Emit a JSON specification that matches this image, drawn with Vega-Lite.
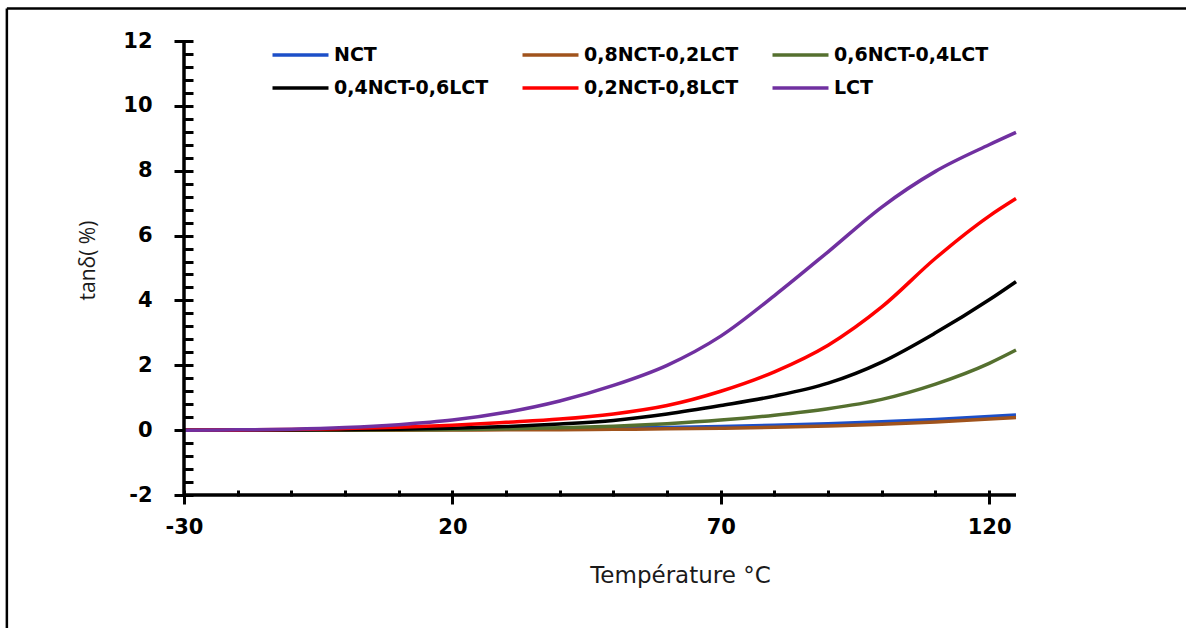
{
  "$schema": "https://vega.github.io/schema/vega-lite/v6.json",
  "width": 832,
  "height": 454,
  "autosize": {"type": "none"},
  "padding": {"left": 184, "top": 41, "right": 170, "bottom": 133},
  "background": "white",
  "config": {"view": {"stroke": null}},
  "datasets": {
    "curves": [
      {"T": -30, "v": 0, "s": "NCT"}, {"T": -20, "v": 0, "s": "NCT"}, {"T": -10, "v": 0.005, "s": "NCT"}, {"T": 0, "v": 0.01, "s": "NCT"}, {"T": 10, "v": 0.02, "s": "NCT"}, {"T": 20, "v": 0.03, "s": "NCT"}, {"T": 30, "v": 0.04, "s": "NCT"}, {"T": 40, "v": 0.05, "s": "NCT"}, {"T": 50, "v": 0.065, "s": "NCT"}, {"T": 60, "v": 0.085, "s": "NCT"}, {"T": 70, "v": 0.11, "s": "NCT"}, {"T": 80, "v": 0.15, "s": "NCT"}, {"T": 90, "v": 0.2, "s": "NCT"}, {"T": 100, "v": 0.26, "s": "NCT"}, {"T": 110, "v": 0.33, "s": "NCT"}, {"T": 120, "v": 0.42, "s": "NCT"}, {"T": 125, "v": 0.47, "s": "NCT"},
      {"T": -30, "v": 0, "s": "0,8NCT-0,2LCT"}, {"T": -20, "v": 0, "s": "0,8NCT-0,2LCT"}, {"T": -10, "v": 0, "s": "0,8NCT-0,2LCT"}, {"T": 0, "v": 0, "s": "0,8NCT-0,2LCT"}, {"T": 10, "v": 0, "s": "0,8NCT-0,2LCT"}, {"T": 20, "v": 0.005, "s": "0,8NCT-0,2LCT"}, {"T": 30, "v": 0.01, "s": "0,8NCT-0,2LCT"}, {"T": 40, "v": 0.015, "s": "0,8NCT-0,2LCT"}, {"T": 50, "v": 0.025, "s": "0,8NCT-0,2LCT"}, {"T": 60, "v": 0.04, "s": "0,8NCT-0,2LCT"}, {"T": 70, "v": 0.06, "s": "0,8NCT-0,2LCT"}, {"T": 80, "v": 0.09, "s": "0,8NCT-0,2LCT"}, {"T": 90, "v": 0.13, "s": "0,8NCT-0,2LCT"}, {"T": 100, "v": 0.18, "s": "0,8NCT-0,2LCT"}, {"T": 110, "v": 0.25, "s": "0,8NCT-0,2LCT"}, {"T": 120, "v": 0.34, "s": "0,8NCT-0,2LCT"}, {"T": 125, "v": 0.39, "s": "0,8NCT-0,2LCT"},
      {"T": -30, "v": 0, "s": "0,6NCT-0,4LCT"}, {"T": -20, "v": 0, "s": "0,6NCT-0,4LCT"}, {"T": -10, "v": 0, "s": "0,6NCT-0,4LCT"}, {"T": 0, "v": 0.005, "s": "0,6NCT-0,4LCT"}, {"T": 10, "v": 0.01, "s": "0,6NCT-0,4LCT"}, {"T": 20, "v": 0.02, "s": "0,6NCT-0,4LCT"}, {"T": 30, "v": 0.04, "s": "0,6NCT-0,4LCT"}, {"T": 40, "v": 0.07, "s": "0,6NCT-0,4LCT"}, {"T": 50, "v": 0.12, "s": "0,6NCT-0,4LCT"}, {"T": 60, "v": 0.2, "s": "0,6NCT-0,4LCT"}, {"T": 70, "v": 0.31, "s": "0,6NCT-0,4LCT"}, {"T": 80, "v": 0.46, "s": "0,6NCT-0,4LCT"}, {"T": 90, "v": 0.66, "s": "0,6NCT-0,4LCT"}, {"T": 100, "v": 0.95, "s": "0,6NCT-0,4LCT"}, {"T": 110, "v": 1.42, "s": "0,6NCT-0,4LCT"}, {"T": 120, "v": 2.06, "s": "0,6NCT-0,4LCT"}, {"T": 125, "v": 2.47, "s": "0,6NCT-0,4LCT"},
      {"T": -30, "v": 0, "s": "0,4NCT-0,6LCT"}, {"T": -20, "v": 0, "s": "0,4NCT-0,6LCT"}, {"T": -10, "v": 0.005, "s": "0,4NCT-0,6LCT"}, {"T": 0, "v": 0.015, "s": "0,4NCT-0,6LCT"}, {"T": 10, "v": 0.03, "s": "0,4NCT-0,6LCT"}, {"T": 20, "v": 0.06, "s": "0,4NCT-0,6LCT"}, {"T": 30, "v": 0.11, "s": "0,4NCT-0,6LCT"}, {"T": 40, "v": 0.19, "s": "0,4NCT-0,6LCT"}, {"T": 50, "v": 0.3, "s": "0,4NCT-0,6LCT"}, {"T": 60, "v": 0.5, "s": "0,4NCT-0,6LCT"}, {"T": 70, "v": 0.76, "s": "0,4NCT-0,6LCT"}, {"T": 80, "v": 1.05, "s": "0,4NCT-0,6LCT"}, {"T": 90, "v": 1.45, "s": "0,4NCT-0,6LCT"}, {"T": 100, "v": 2.1, "s": "0,4NCT-0,6LCT"}, {"T": 110, "v": 3.0, "s": "0,4NCT-0,6LCT"}, {"T": 120, "v": 4.02, "s": "0,4NCT-0,6LCT"}, {"T": 125, "v": 4.58, "s": "0,4NCT-0,6LCT"},
      {"T": -30, "v": 0, "s": "0,2NCT-0,8LCT"}, {"T": -20, "v": 0.005, "s": "0,2NCT-0,8LCT"}, {"T": -10, "v": 0.02, "s": "0,2NCT-0,8LCT"}, {"T": 0, "v": 0.05, "s": "0,2NCT-0,8LCT"}, {"T": 10, "v": 0.09, "s": "0,2NCT-0,8LCT"}, {"T": 20, "v": 0.15, "s": "0,2NCT-0,8LCT"}, {"T": 30, "v": 0.24, "s": "0,2NCT-0,8LCT"}, {"T": 40, "v": 0.34, "s": "0,2NCT-0,8LCT"}, {"T": 50, "v": 0.5, "s": "0,2NCT-0,8LCT"}, {"T": 60, "v": 0.76, "s": "0,2NCT-0,8LCT"}, {"T": 70, "v": 1.2, "s": "0,2NCT-0,8LCT"}, {"T": 80, "v": 1.8, "s": "0,2NCT-0,8LCT"}, {"T": 90, "v": 2.62, "s": "0,2NCT-0,8LCT"}, {"T": 100, "v": 3.8, "s": "0,2NCT-0,8LCT"}, {"T": 110, "v": 5.3, "s": "0,2NCT-0,8LCT"}, {"T": 120, "v": 6.6, "s": "0,2NCT-0,8LCT"}, {"T": 125, "v": 7.14, "s": "0,2NCT-0,8LCT"},
      {"T": -30, "v": 0, "s": "LCT"}, {"T": -20, "v": 0.01, "s": "LCT"}, {"T": -10, "v": 0.03, "s": "LCT"}, {"T": 0, "v": 0.08, "s": "LCT"}, {"T": 10, "v": 0.17, "s": "LCT"}, {"T": 20, "v": 0.31, "s": "LCT"}, {"T": 30, "v": 0.55, "s": "LCT"}, {"T": 40, "v": 0.9, "s": "LCT"}, {"T": 50, "v": 1.38, "s": "LCT"}, {"T": 60, "v": 2.0, "s": "LCT"}, {"T": 70, "v": 2.9, "s": "LCT"}, {"T": 80, "v": 4.15, "s": "LCT"}, {"T": 90, "v": 5.5, "s": "LCT"}, {"T": 100, "v": 6.88, "s": "LCT"}, {"T": 110, "v": 7.98, "s": "LCT"}, {"T": 120, "v": 8.8, "s": "LCT"}, {"T": 125, "v": 9.18, "s": "LCT"}
    ]
  },
  "layer": [
    {
      "data": {"name": "curves"},
      "mark": {"type": "line", "strokeWidth": 3.5, "interpolate": "monotone"},
      "encoding": {
        "x": {
          "field": "T", "type": "quantitative",
          "scale": {"domain": [-30, 125], "nice": false, "zero": false},
          "axis": {
            "values": [-30, -20, -10, 0, 10, 20, 30, 40, 50, 60, 70, 80, 90, 100, 110, 120],
            "tickCount": 200,
            "offset": -5, "domain": false, "grid": false,
            "tickSize": {"condition": {"test": "(datum.value + 30) % 50 == 0", "value": 14}, "value": 6},
            "tickWidth": 3, "tickColor": "black",
            "labelExpr": "(datum.value + 30) % 50 == 0 ? '' + datum.value : ''",
            "labelFont": "DejaVu Sans", "labelFontSize": 21, "labelFontWeight": "bold", "labelColor": "black",
            "labelPadding": 12, "labelOverlap": false, "labelBound": false, "labelFlush": false,
            "title": "Température °C", "titleFont": "DejaVu Sans", "titleFontSize": 23, "titleFontWeight": "normal", "titleColor": "#1a1a1a",
            "titleX": 496, "titleY": 92, "titleAlign": "center", "titleBaseline": "alphabetic"
          }
        },
        "y": {
          "field": "v", "type": "quantitative",
          "scale": {"domain": [-2, 12], "nice": false, "zero": false},
          "axis": {
            "values": [-2, -1.6, -1.2, -0.8, -0.4, 0, 0.4, 0.8, 1.2, 1.6, 2, 2.4, 2.8, 3.2, 3.6, 4, 4.4, 4.8, 5.2, 5.6, 6, 6.4, 6.8, 7.2, 7.6, 8, 8.4, 8.8, 9.2, 9.6, 10, 10.4, 10.8, 11.2, 11.6, 12],
            "tickCount": 200,
            "offset": -9, "domain": false, "grid": false,
            "tickSize": {"condition": {"test": "datum.value % 2 == 0", "value": 19}, "value": 9},
            "tickWidth": 3, "tickColor": "black",
            "labelExpr": "datum.value % 2 == 0 ? '' + datum.value : ''",
            "labelFont": "DejaVu Sans", "labelFontSize": 21, "labelFontWeight": "bold", "labelColor": "black",
            "labelPadding": 22, "labelOverlap": false, "labelBound": false, "labelFlush": false,
            "title": "tanδ( %)", "titleFont": "Open Sans", "titleFontSize": 21, "titleFontWeight": "normal", "titleColor": "#1a1a1a",
            "titleAngle": -90, "titleX": -105, "titleY": 219, "titleAlign": "center", "titleBaseline": "middle"
          }
        },
        "color": {
          "field": "s", "type": "nominal",
          "scale": {
            "domain": ["NCT", "0,8NCT-0,2LCT", "0,6NCT-0,4LCT", "0,4NCT-0,6LCT", "0,2NCT-0,8LCT", "LCT"],
            "range": ["#1c4fc8", "#a0531c", "#55702f", "#000000", "#ff0000", "#7030a0"]
          },
          "legend": {
            "orient": "none", "legendX": 93.5, "legendY": -9, "direction": "horizontal", "columns": 3,
            "columnPadding": 27, "rowPadding": 0, "symbolType": "M-1.333,0H1.333", "symbolSize": 1764, "symbolStrokeWidth": 3.5,
            "labelFont": "DejaVu Sans", "labelFontSize": 19, "labelFontWeight": "bold", "labelColor": "black",
            "labelOffset": 10.5, "labelLimit": 300, "title": null
          }
        }
      }
    },
    {
      "data": {"values": [{}]},
      "mark": {"type": "rule", "strokeWidth": 3.5, "color": "black"},
      "encoding": {"x": {"datum": -30}}
    },
    {
      "data": {"values": [{}]},
      "mark": {"type": "rule", "strokeWidth": 3.5, "color": "black"},
      "encoding": {"y": {"datum": -2}}
    },
    {
      "data": {"values": [{}]},
      "mark": {"type": "rule", "strokeWidth": 2.5, "color": "black", "clip": false},
      "encoding": {"x": {"datum": -63}, "x2": {"datum": 160}, "y": {"datum": 13}}
    },
    {
      "data": {"values": [{}]},
      "mark": {"type": "rule", "strokeWidth": 2.5, "color": "black", "clip": false},
      "encoding": {"x": {"datum": -63}, "y": {"datum": 13}, "y2": {"datum": -6.2}}
    }
  ]
}
